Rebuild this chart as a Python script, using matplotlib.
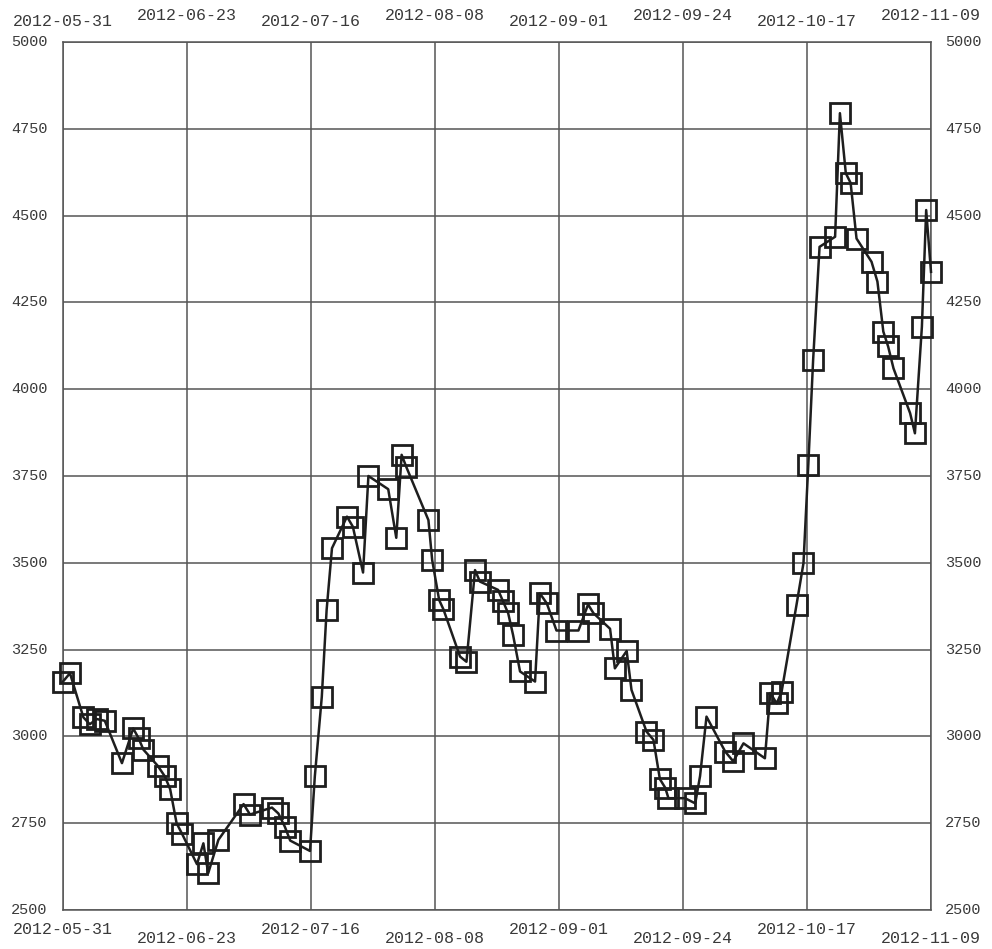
import numpy as np
import matplotlib
matplotlib.use("Agg")
import matplotlib.pyplot as plt

# days since 2012-05-31 and closing values
days = [0.0, 1.3, 3.8, 5.0, 6.3, 7.8, 11.0, 13.1, 14.1, 15.0,
        17.7, 19.0, 20.0, 21.2, 22.2, 25.0, 26.2, 27.1, 29.0, 33.7,
        34.9, 39.0, 40.2, 41.4, 42.4, 46.1, 47.0, 48.3, 49.2, 50.2,
        53.0, 54.1, 56.0, 57.0, 60.7, 62.2, 63.2, 64.1, 68.2, 68.9,
        70.2, 71.0, 74.1, 75.3, 76.9, 77.8, 81.2, 82.1, 83.1, 84.0,
        85.3, 88.1, 89.0, 90.3, 92.1, 96.2, 98.0, 99.0, 102.1, 103.0,
        105.2, 106.1, 108.9, 110.2, 111.4, 112.4, 113.0, 116.1, 118.0, 118.9,
        120.1, 123.6, 125.1, 127.0, 131.0, 132.0, 133.2, 134.1, 136.9, 138.2,
        139.1, 140.0, 141.2, 144.1, 145.0, 146.1, 147.0, 148.1, 150.9, 152.0,
        153.1, 154.0, 155.0, 158.1, 159.0, 160.3, 161.1, 162.0]
values = [3158, 3182, 3055, 3035, 3050, 3045, 2923, 3023, 2995, 2962,
          2915, 2885, 2848, 2750, 2720, 2632, 2692, 2606, 2702, 2805,
          2775, 2795, 2778, 2740, 2700, 2670, 2885, 3114, 3364, 3542,
          3633, 3604, 3472, 3750, 3712, 3572, 3811, 3775, 3623, 3508,
          3393, 3366, 3230, 3215, 3479, 3446, 3422, 3390, 3354, 3292,
          3187, 3158, 3412, 3383, 3305, 3305, 3380, 3355, 3310, 3196,
          3246, 3134, 3014, 2990, 2877, 2852, 2822, 2822, 2807, 2886,
          3057, 2956, 2928, 2980, 2937, 3125, 3095, 3127, 3379, 3499,
          3782, 4084, 4410, 4439, 4795, 4622, 4594, 4434, 4367, 4310,
          4166, 4123, 4060, 3931, 3873, 4180, 4516, 4338]

tick_labels = ["2012-05-31", "2012-06-23", "2012-07-16", "2012-08-08",
               "2012-09-01", "2012-09-24", "2012-10-17", "2012-11-09"]
y_ticks = [2500, 2750, 3000, 3250, 3500, 3750, 4000, 4250, 4500, 4750, 5000]

ink = "#1e1e1e"
grid_col = "#555555"
txt_col = "#3a3a3a"
font = "Liberation Mono"

fig = plt.figure(figsize=(9.92, 9.49), dpi=100)
ax = fig.add_axes([63 / 992, 39 / 949, 868 / 992, 868 / 949])

ax.plot(days, values, color=ink, lw=1.8, marker="s", ms=15,
        mfc="none", mec=ink, mew=2.0, zorder=3, clip_on=False)

x_ticks = np.linspace(0, 162, len(tick_labels))
ax.set_xlim(0, 162)
ax.set_ylim(2500, 5000)
ax.set_xticks(x_ticks)
ax.set_yticks(y_ticks)
ax.grid(True, color=grid_col, lw=1.1)
ax.tick_params(axis="both", length=0, labelbottom=False, labelleft=False)
for s in ax.spines.values():
    s.set_color(grid_col)
    s.set_linewidth(1.1)

# staggered date labels on top and bottom
for i, (xt, lab) in enumerate(zip(x_ticks, tick_labels)):
    hi = i % 2 == 1
    ax.annotate(lab, xy=(xt, 1), xycoords=("data", "axes fraction"),
                xytext=(0, 14 if hi else 9), textcoords="offset points",
                ha="center", va="bottom", fontsize=12, family=font,
                color=txt_col, annotation_clip=False)
    ax.annotate(lab, xy=(xt, 0), xycoords=("data", "axes fraction"),
                xytext=(0, -15 if hi else -9), textcoords="offset points",
                ha="center", va="top", fontsize=12, family=font,
                color=txt_col, annotation_clip=False)

for yt in y_ticks:
    ax.annotate(str(yt), xy=(0, yt), xycoords=("axes fraction", "data"),
                xytext=(-11, 0), textcoords="offset points",
                ha="right", va="center", fontsize=11, family=font,
                color=txt_col, annotation_clip=False)
    ax.annotate(str(yt), xy=(1, yt), xycoords=("axes fraction", "data"),
                xytext=(10, 0), textcoords="offset points",
                ha="left", va="center", fontsize=11, family=font,
                color=txt_col, annotation_clip=False)

fig.savefig("out.png", dpi=100, facecolor="white")
